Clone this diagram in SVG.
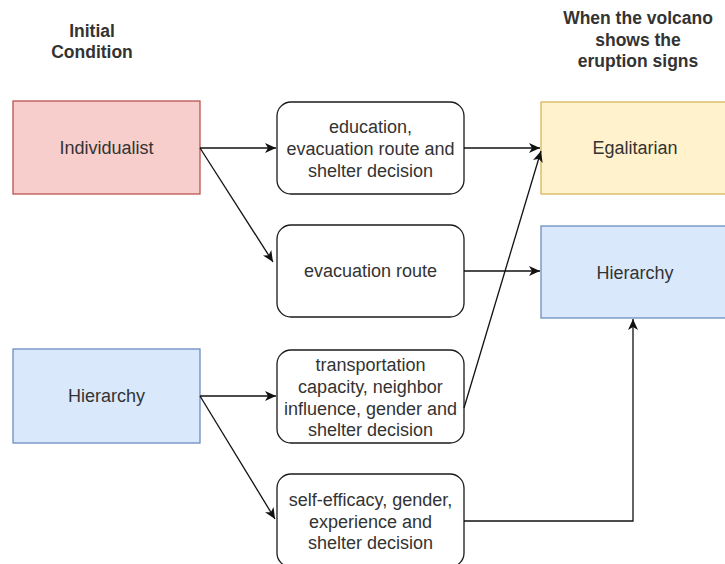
<svg xmlns="http://www.w3.org/2000/svg" width="725" height="564" viewBox="0 0 725 564">
  <style>
    .title { font-family: "Liberation Sans", Arial, sans-serif; font-size: 17.5px; font-weight: bold; fill: #333; text-anchor: middle; }
    .label { font-family: "Liberation Sans", Arial, sans-serif; font-size: 18px; fill: #333; text-anchor: middle; }
    .step { fill: #ffffff; stroke: #1a1a1a; stroke-width: 1.3; }
    .ind { fill: #f8cecc; stroke: #b85450; stroke-width: 1.3; }
    .hier { fill: #dae8fc; stroke: #6c8ebf; stroke-width: 1.3; }
    .egal { fill: #fff2cc; stroke: #d6b656; stroke-width: 1.3; }
    .edge { fill: none; stroke: #111; stroke-width: 1.3; marker-end: url(#arrow); }
  </style>
  <defs>
    <marker id="arrow" markerUnits="userSpaceOnUse" markerWidth="12" markerHeight="10" refX="11" refY="5" orient="auto">
      <path d="M0,0 L11,5 L0,10 L3,5 Z" fill="#111"/>
    </marker>
  </defs>
  <rect width="725" height="564" fill="#ffffff"/>

  <!-- column headings -->
  <g id="heading-initial">
    <text class="title" x="92" y="37">Initial</text>
    <text class="title" x="92" y="58">Condition</text>
  </g>
  <g id="heading-eruption">
    <text class="title" x="638" y="24">When the volcano</text>
    <text class="title" x="638" y="46">shows the</text>
    <text class="title" x="638" y="67">eruption signs</text>
  </g>

  <!-- initial condition nodes -->
  <g id="individualist">
    <rect class="ind" x="13" y="101" width="187" height="93"/>
    <text class="label" x="106.5" y="154">Individualist</text>
  </g>
  <g id="hierarchy-initial">
    <rect class="hier" x="13" y="349" width="187" height="94"/>
    <text class="label" x="106.5" y="402">Hierarchy</text>
  </g>

  <!-- factor nodes -->
  <g id="factor-education">
    <rect class="step" x="277" y="102" width="187" height="92" rx="14" ry="14"/>
    <text class="label" x="370.5" y="133">education,</text>
    <text class="label" x="370.5" y="155">evacuation route and</text>
    <text class="label" x="370.5" y="177">shelter decision</text>
  </g>
  <g id="factor-route">
    <rect class="step" x="277" y="225" width="187" height="92" rx="14" ry="14"/>
    <text class="label" x="370.5" y="277">evacuation route</text>
  </g>
  <g id="factor-transport">
    <rect class="step" x="277" y="350" width="187" height="93" rx="14" ry="14"/>
    <text class="label" x="370.5" y="371">transportation</text>
    <text class="label" x="370.5" y="393">capacity, neighbor</text>
    <text class="label" x="370.5" y="415">influence, gender and</text>
    <text class="label" x="370.5" y="436">shelter decision</text>
  </g>
  <g id="factor-efficacy">
    <rect class="step" x="277" y="474" width="187" height="93" rx="14" ry="14"/>
    <text class="label" x="370.5" y="506">self-efficacy, gender,</text>
    <text class="label" x="370.5" y="528">experience and</text>
    <text class="label" x="370.5" y="549">shelter decision</text>
  </g>

  <!-- outcome nodes -->
  <g id="egalitarian">
    <rect class="egal" x="541" y="102" width="188" height="92"/>
    <text class="label" x="635" y="154">Egalitarian</text>
  </g>
  <g id="hierarchy-outcome">
    <rect class="hier" x="541" y="226" width="188" height="92"/>
    <text class="label" x="635" y="279">Hierarchy</text>
  </g>

  <!-- connectors -->
  <g id="connectors">
    <path class="edge" d="M200,148 L276,148"/>
    <path class="edge" d="M200,148 L273,262"/>
    <path class="edge" d="M464,148 L540,148"/>
    <path class="edge" d="M464,271 L540,271"/>
    <path class="edge" d="M464,408 L541,151"/>
    <path class="edge" d="M200,396 L276,396"/>
    <path class="edge" d="M200,396 L275,519"/>
    <path class="edge" d="M464,521 L633,521 L633,319"/>
  </g>
</svg>
